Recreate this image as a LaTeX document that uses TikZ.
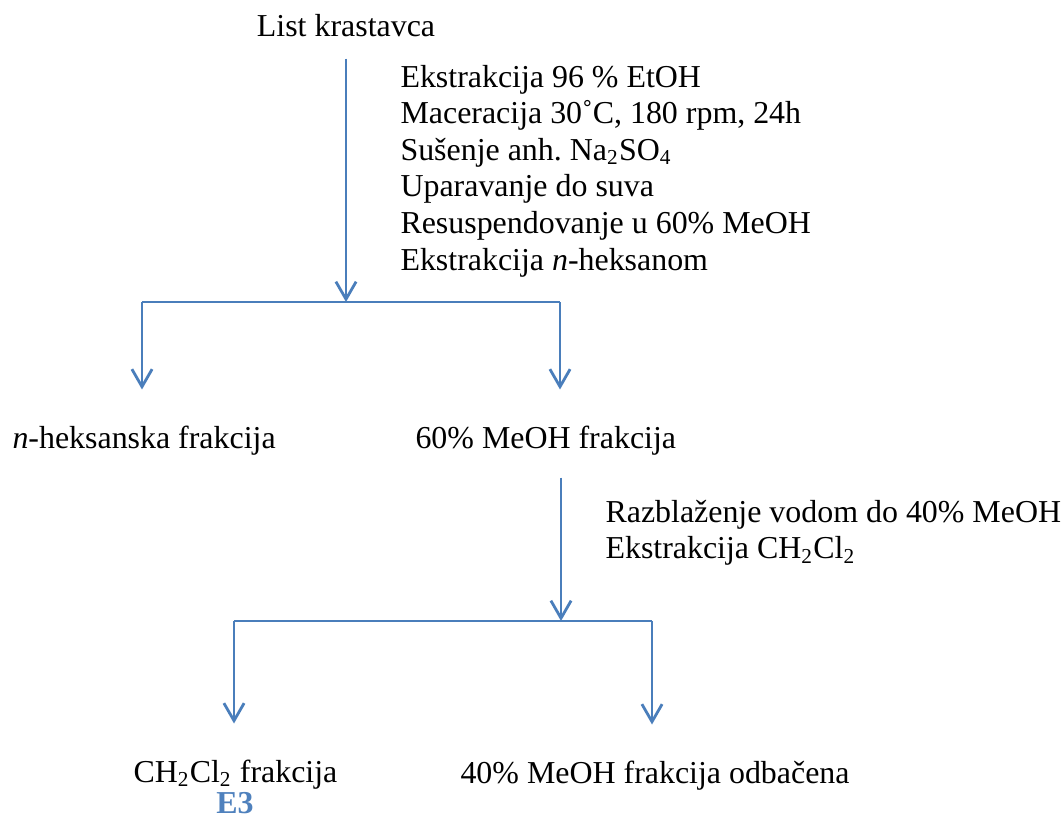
\documentclass[tikz,border=0pt]{standalone}
\usepackage{fontspec}
\setmainfont{Liberation Serif}
\usetikzlibrary{arrows.meta}
\definecolor{lineblue}{HTML}{4A7EBB}
\definecolor{labelblue}{HTML}{4F81BD}
\frenchspacing
\begin{document}
\begin{tikzpicture}[x=0.376pt,y=-0.376pt,
  lbl/.style={inner sep=0pt,text height=9pt,text depth=2.5pt,font=\fontsize{12}{13.8}\selectfont},
  conn/.style={draw=lineblue,line width=1.05pt},
  arr/.style={conn,-{Straight Barb[length=6.6pt,width=7.6pt,line width=1.05pt]}}]
\useasboundingbox (0,0) rectangle (1063,817);
% texts
\node[lbl,anchor=base] (list) at (346,36) {List krastavca};
\node[lbl,anchor=base west] (s1) at (400,87) {Ekstrakcija 96 \% EtOH};
\node[lbl,anchor=base west] (s2) at (400,123.6) {Maceracija 30˚C, 180 rpm, 24h};
\node[lbl,anchor=base west] (s3) at (400,160.2) {Sušenje anh. Na\textsubscript{2}SO\textsubscript{4}};
\node[lbl,anchor=base west] (s4) at (400,196.8) {Uparavanje do suva};
\node[lbl,anchor=base west] (s5) at (400,233.4) {Resuspendovanje u 60\% MeOH};
\node[lbl,anchor=base west] (s6) at (400,270) {Ekstrakcija \textit{n}-heksanom};
\node[lbl,anchor=base west] (heks) at (12,448) {\textit{n}-heksanska frakcija};
\node[lbl,anchor=base west] (meoh) at (415,448) {60\% MeOH frakcija};
\node[lbl,anchor=base west] (r1) at (605,522) {Razblaženje vodom do 40\% MeOH};
\node[lbl,anchor=base west] (r2) at (605,558.6) {Ekstrakcija CH\textsubscript{2}Cl\textsubscript{2}};
\node[lbl,anchor=base west] (dcm) at (133,782) {CH\textsubscript{2}Cl\textsubscript{2} frakcija};
\node[lbl,anchor=base,text depth=0pt,font=\fontsize{12}{13.8}\selectfont\bfseries,text=labelblue] (e3) at (235,813) {E3};
\node[lbl,anchor=base west] (odb) at (460,783) {40\% MeOH frakcija odbačena};
% junctions
\coordinate (j1) at (346,302);
\coordinate (j1l) at (142,302);
\coordinate (j1r) at (560,302);
\coordinate (j2) at (561,621);
\coordinate (j2l) at (234,621);
\coordinate (j2r) at (652,621);
% connectors
\draw[arr,shorten <=5.8pt] (list.south) -- (j1);
\draw[conn] (j1l) -- (j1r);
\draw[arr,shorten >=12.8pt] (j1l) -- (j1l |- heks.north);
\draw[arr,shorten >=12.8pt] (j1r) -- (j1r |- meoh.north);
\draw[arr,shorten <=8.4pt] (meoh.south -| j2) -- (j2);
\draw[conn] (j2l) -- (j2r);
\draw[arr,shorten >=12.8pt] (j2l) -- (j2l |- dcm.north);
\draw[arr,shorten >=12.8pt] (j2r) -- (j2r |- odb.north);
\end{tikzpicture}
\end{document}
